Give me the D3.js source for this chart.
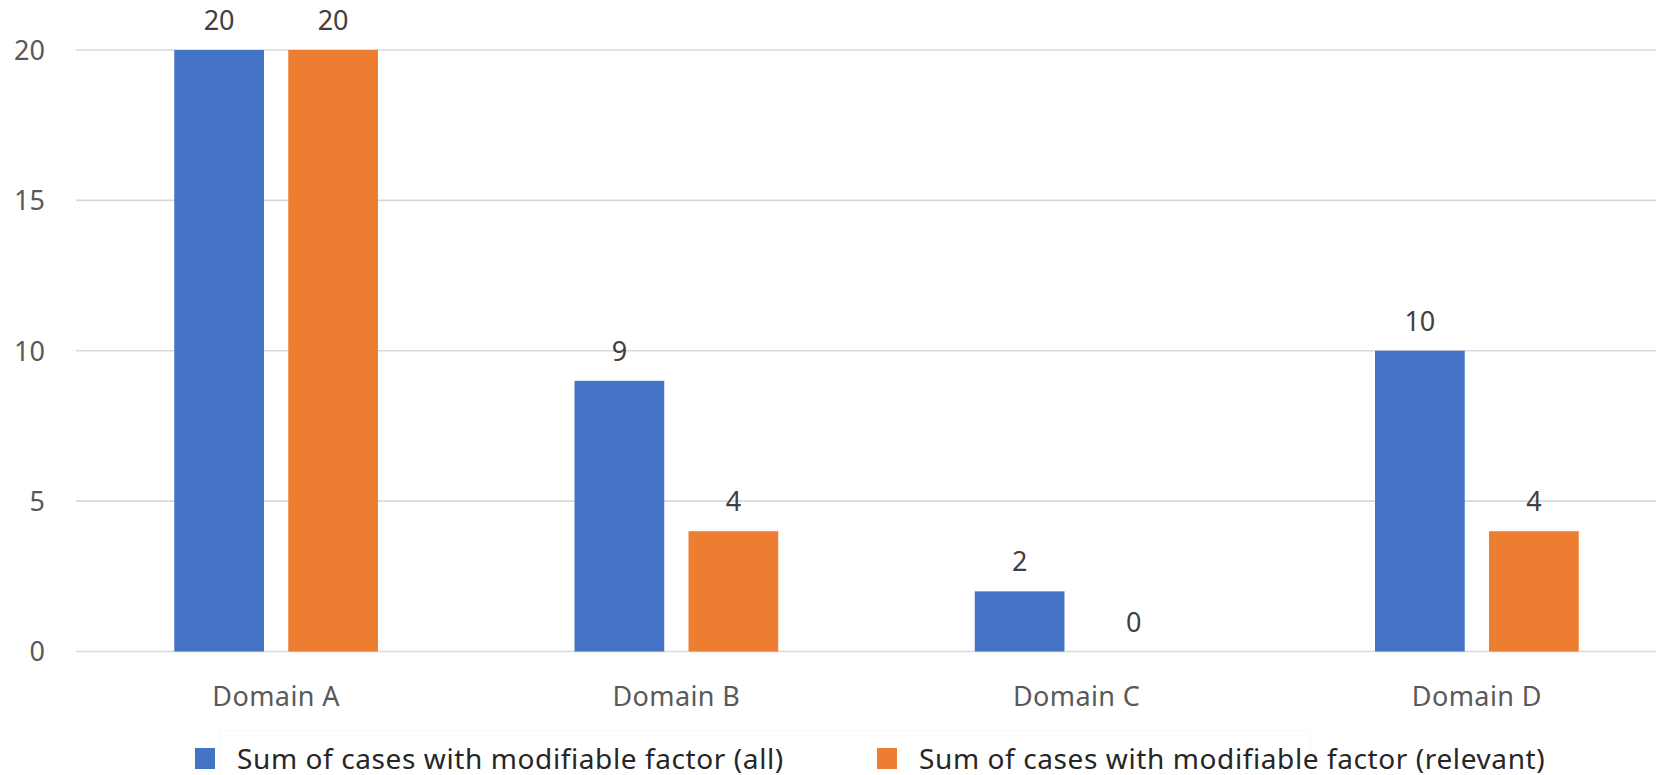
<!DOCTYPE html>
<html>
<head>
<meta charset="utf-8">
<script src="https://cdn.jsdelivr.net/npm/d3@7"></script>
<style>
  html, body { margin: 0; padding: 0; background: #ffffff; }
  svg { display: block; font-family: "Noto Sans", "Open Sans", sans-serif; }
</style>
</head>
<body>
<svg id="chart" width="1656" height="775"></svg>
<script>
// Chart data
const categories = ["Domain A", "Domain B", "Domain C", "Domain D"];
const seriesNames = [
  "Sum of cases with modifiable factor (all)",
  "Sum of cases with modifiable factor (relevant)"
];
const allCases = [20, 9, 2, 10];
const relevantCases = [20, 4, 0, 4];
const yTicks = [0, 5, 10, 15, 20];
const seriesColors = ["#4472C4", "#ED7D31"];

const W = 1656, H = 775;
const plot = { left: 76, right: 1677, top: 50, bottom: 651.5 };

const svg = d3.select("#chart");

const x0 = d3.scaleBand()
  .domain(categories)
  .range([plot.left, plot.right])
  .paddingInner(0.491)
  .paddingOuter(0.2455);

const x1 = d3.scaleBand()
  .domain(seriesNames)
  .range([0, x0.bandwidth()])
  .paddingInner(0.213);

const y = d3.scaleLinear()
  .domain([0, 20])
  .range([plot.bottom, plot.top]);

// Horizontal gridlines
svg.append("g")
  .selectAll("line")
  .data(yTicks)
  .join("line")
  .attr("x1", plot.left)
  .attr("x2", W)
  .attr("y1", d => y(d))
  .attr("y2", d => y(d))
  .attr("stroke", "#d9d9d9")
  .attr("stroke-width", 1.6);

// Y axis labels
const yAxis = d3.axisLeft(y).tickValues(yTicks).tickSize(0).tickPadding(0);
const gy = svg.append("g")
  .attr("transform", `translate(45,0)`)
  .call(yAxis);
gy.select(".domain").remove();
gy.selectAll("text")
  .attr("fill", "#595959")
  .attr("font-size", 27)
  .attr("font-family", "Noto Sans, Open Sans, sans-serif")
  .attr("dy", "0.35em");

// X axis labels
const xAxis = d3.axisBottom(x0).tickSize(0).tickPadding(0);
const gx = svg.append("g")
  .attr("transform", `translate(0,${plot.bottom})`)
  .call(xAxis);
gx.select(".domain").remove();
gx.selectAll("text")
  .attr("fill", "#595959")
  .attr("font-size", 27)
  .attr("letter-spacing", 0.4)
  .attr("font-family", "Noto Sans, Open Sans, sans-serif")
  .attr("dy", null)
  .attr("y", 54);

// Bars
const rows = categories.map((c, i) => ({
  category: c,
  values: [
    { series: seriesNames[0], value: allCases[i], color: seriesColors[0] },
    { series: seriesNames[1], value: relevantCases[i], color: seriesColors[1] }
  ]
}));

const groups = svg.append("g")
  .selectAll("g")
  .data(rows)
  .join("g")
  .attr("transform", d => `translate(${x0(d.category)},0)`);

groups.selectAll("rect")
  .data(d => d.values)
  .join("rect")
  .attr("x", d => x1(d.series))
  .attr("y", d => y(d.value))
  .attr("width", x1.bandwidth())
  .attr("height", d => y(0) - y(d.value))
  .attr("fill", d => d.color);

// Value labels above bars
groups.selectAll("text")
  .data(d => d.values)
  .join("text")
  .attr("x", d => x1(d.series) + x1.bandwidth() / 2)
  .attr("y", d => y(d.value) - 20)
  .attr("text-anchor", "middle")
  .attr("fill", "#404040")
  .attr("font-size", 27)
  .text(d => d.value);

// Legend
const legendItems = [
  { name: seriesNames[0], color: seriesColors[0], x: 195 },
  { name: seriesNames[1], color: seriesColors[1], x: 877 }
];
svg.append("rect")
  .attr("x", 220).attr("y", 731)
  .attr("width", 1090).attr("height", 60)
  .attr("fill", "none")
  .attr("stroke", "#f8f8f8")
  .attr("stroke-width", 1);

const legend = svg.append("g")
  .selectAll("g")
  .data(legendItems)
  .join("g")
  .attr("transform", d => `translate(${d.x},748)`);
legend.append("rect")
  .attr("width", 20)
  .attr("height", 21)
  .attr("fill", d => d.color);
legend.append("text")
  .attr("x", 42)
  .attr("y", 21)
  .attr("fill", "#262626")
  .attr("font-size", 28)
  .attr("letter-spacing", 0.6)
  .text(d => d.name);
</script>
</body>
</html>
